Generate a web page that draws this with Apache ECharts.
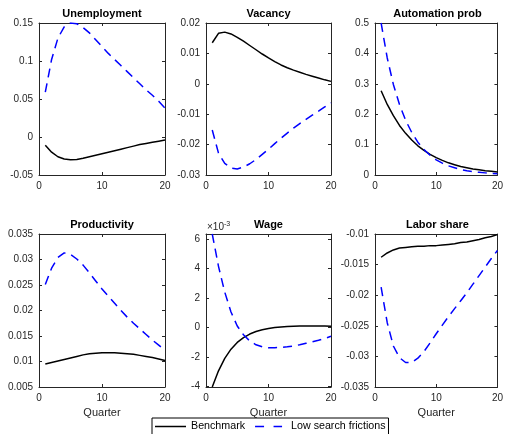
<!DOCTYPE html>
<html>
<head>
<meta charset="utf-8">
<script src="https://cdn.jsdelivr.net/npm/echarts@6/dist/echarts.min.js"></script>
<style>
  html, body { margin: 0; padding: 0; background: #fff; }
  #chart { width: 506px; height: 434px; }
</style>
</head>
<body>
<div id="chart"></div>
<script>
// Impulse responses over 20 quarters: benchmark vs. low search frictions
const quarters = [1, 2, 3, 4, 5, 6, 7, 8, 9, 10, 11, 12, 13, 14, 15, 16, 17, 18, 19, 20];

const unempBench = [-0.011, -0.020, -0.026, -0.029, -0.030, -0.0295, -0.028, -0.026, -0.024, -0.022,
                    -0.020, -0.018, -0.016, -0.014, -0.012, -0.010, -0.0085, -0.007, -0.0055, -0.004];
const unempLow   = [0.059, 0.102, 0.130, 0.145, 0.150, 0.149, 0.144, 0.137, 0.128, 0.119,
                    0.110, 0.102, 0.094, 0.086, 0.078, 0.070, 0.062, 0.055, 0.047, 0.038];

const vacBench = [0.0135, 0.0166, 0.0170, 0.0164, 0.0153, 0.0140, 0.0126, 0.0112, 0.0098, 0.0085,
                  0.0073, 0.0062, 0.0053, 0.0045, 0.0038, 0.0031, 0.0025, 0.0019, 0.0013, 0.0008];
const vacLow   = [-0.0152, -0.0228, -0.0262, -0.0277, -0.0280, -0.0274, -0.0263, -0.0249, -0.0232, -0.0215,
                  -0.0197, -0.0179, -0.0162, -0.0146, -0.0131, -0.0117, -0.0103, -0.0090, -0.0076, -0.0063];

const autoBench = [0.277, 0.232, 0.195, 0.163, 0.137, 0.115, 0.096, 0.081, 0.068, 0.057,
                   0.048, 0.040, 0.034, 0.028, 0.024, 0.020, 0.017, 0.014, 0.012, 0.010];
const autoLow   = [0.500, 0.385, 0.298, 0.232, 0.180, 0.140, 0.108, 0.084, 0.065, 0.050,
                   0.039, 0.030, 0.024, 0.018, 0.014, 0.011, 0.009, 0.007, 0.005, 0.004];

const prodBench = [0.0095, 0.0098, 0.0101, 0.0104, 0.0107, 0.0110, 0.0113, 0.0115, 0.0116, 0.0117,
                   0.0117, 0.0117, 0.0116, 0.0115, 0.0114, 0.0112, 0.0110, 0.0108, 0.0105, 0.0102];
const prodLow   = [0.0251, 0.0283, 0.0304, 0.0313, 0.0310, 0.0301, 0.0289, 0.0274, 0.0258, 0.0242,
                   0.0228, 0.0214, 0.0200, 0.0187, 0.0175, 0.0164, 0.0153, 0.0142, 0.0132, 0.0122];

// wage responses in units of 1e-3
const wageBench = [-4.05, -2.95, -2.10, -1.48, -1.02, -0.69, -0.45, -0.28, -0.16, -0.07,
                   -0.01, 0.03, 0.06, 0.08, 0.09, 0.09, 0.09, 0.09, 0.09, 0.08];
const wageLow   = [6.35, 4.15, 2.40, 1.05, 0.10, -0.50, -0.92, -1.18, -1.32, -1.38,
                   -1.38, -1.36, -1.32, -1.26, -1.18, -1.08, -0.98, -0.87, -0.75, -0.60];

const laborBench = [-0.0138, -0.0131, -0.0126, -0.0123, -0.0122, -0.0121, -0.0120, -0.0120, -0.0119, -0.0119,
                    -0.0118, -0.0117, -0.0116, -0.0114, -0.0113, -0.0111, -0.0109, -0.0106, -0.0104, -0.0101];
const laborLow   = [-0.0187, -0.0245, -0.0283, -0.0302, -0.0310, -0.0310, -0.0303, -0.0292, -0.0278, -0.0263,
                    -0.0249, -0.0235, -0.0222, -0.0209, -0.0196, -0.0182, -0.0168, -0.0154, -0.0140, -0.0127];

const panelTitles = ['Unemployment', 'Vacancy', 'Automation prob', 'Productivity', 'Wage', 'Labor share'];
const seriesNames = ['Benchmark', 'Low search frictions'];

const panels = [
  { bench: unempBench, low: unempLow, min: -0.05, max: 0.15, step: 0.05 },
  { bench: vacBench, low: vacLow, min: -0.03, max: 0.02, step: 0.01 },
  { bench: autoBench, low: autoLow, min: 0, max: 0.5, step: 0.1 },
  { bench: prodBench, low: prodLow, min: 0.005, max: 0.035, step: 0.005 },
  { bench: wageBench, low: wageLow, min: -4.05, max: 6.35, ticks: [-4, -2, 0, 2, 4, 6] },
  { bench: laborBench, low: laborLow, min: -0.035, max: -0.01, step: 0.005 }
];

// layout of the 2x3 panel grid
const colLeft = [39, 206, 375];
const colWidth = [126, 125, 125];
const rowTop = [23, 234];
const rowHeight = [152, 153];

const AX = '#262626';
const FONT = 'Liberation Sans, Arial, Helvetica, sans-serif';
const DASH = [9, 6];

const grids = [], xAxes = [], yAxes = [], series = [], titles = [];

panels.forEach((p, i) => {
  const r = Math.floor(i / 3), c = i % 3;
  grids.push({ left: colLeft[c], top: rowTop[r], width: colWidth[c], height: rowHeight[r], containLabel: false });
  titles.push({
    text: panelTitles[i],
    left: colLeft[c] + colWidth[c] / 2,
    top: rowTop[r] - 15,
    textAlign: 'center',
    padding: 0,
    textStyle: { fontFamily: FONT, fontSize: 11, fontWeight: 'bold', color: '#000' }
  });

  const common = {
    type: 'value', gridIndex: i,
    axisLine: { show: true, onZero: false, lineStyle: { color: AX, width: 1 } },
    axisTick: { show: true, inside: true, length: 3, lineStyle: { color: AX } },
    splitLine: { show: false }
  };
  // bottom and top x axes (box with mirrored ticks)
  xAxes.push(Object.assign({}, common, {
    position: 'bottom', min: 0, max: 20, interval: 10,
    axisLabel: { color: AX, fontFamily: FONT, fontSize: 10, margin: 6 },
    name: r === 1 ? 'Quarter' : '', nameLocation: 'middle', nameGap: 20,
    nameTextStyle: { color: AX, fontFamily: FONT, fontSize: 11 }
  }));
  xAxes.push(Object.assign({}, common, {
    position: 'top', min: 0, max: 20, interval: 10, axisLabel: { show: false }
  }));

  const yBase = { min: p.min, max: p.max };
  if (p.ticks) {
    yBase.axisLabel = { color: AX, fontFamily: FONT, fontSize: 10, margin: 6, customValues: p.ticks };
    yBase.axisTick = Object.assign({}, common.axisTick, { customValues: p.ticks });
  } else {
    yBase.interval = p.step;
    yBase.axisLabel = { color: AX, fontFamily: FONT, fontSize: 10, margin: 6 };
  }
  yAxes.push(Object.assign({}, common, yBase, { position: 'left' }));
  const yRight = Object.assign({}, common, yBase, { position: 'right' });
  yRight.axisLabel = Object.assign({}, yBase.axisLabel, { show: false });
  yAxes.push(yRight);

  series.push({
    name: seriesNames[0], type: 'line', xAxisIndex: 2 * i, yAxisIndex: 2 * i,
    data: quarters.map((q, k) => [q, p.bench[k]]),
    showSymbol: false, symbol: 'none', smooth: false,
    lineStyle: { color: '#000', width: 1.5 }, itemStyle: { color: '#000' }
  });
  series.push({
    name: seriesNames[1], type: 'line', xAxisIndex: 2 * i, yAxisIndex: 2 * i,
    data: quarters.map((q, k) => [q, p.low[k]]),
    showSymbol: false, symbol: 'none', smooth: false,
    lineStyle: { color: '#0000ff', width: 1.5, type: DASH }, itemStyle: { color: '#0000ff' }
  });
});

const chart = echarts.init(document.getElementById('chart'), null, { renderer: 'canvas' });
chart.setOption({
  backgroundColor: '#fff',
  animation: false,
  title: titles,
  grid: grids,
  xAxis: xAxes,
  yAxis: yAxes,
  series: series,
  legend: {
    left: 152, top: 418,
    orient: 'horizontal',
    itemWidth: 31, itemHeight: 12, itemGap: 10,
    padding: [3, 3, 3, 3],
    borderColor: '#000', borderWidth: 1, backgroundColor: '#fff',
    textStyle: { fontFamily: FONT, fontSize: 10.7, color: '#000' },
    data: [
      { name: seriesNames[0], icon: 'path://M0,0h31v1.5h-31z', itemStyle: { color: '#000' } },
      { name: seriesNames[1], icon: 'path://M0,0h9v1.5h-9z M18.5,0h8.5v1.5h-8.5z M30.99,0h0.01v1.5h-0.01z', itemStyle: { color: '#0000ff' } }
    ],
    z: 10
  },
  graphic: [{
    type: 'text', left: 207, top: 221,
    style: {
      text: '{a|\u00d710}{b|-3}',
      rich: {
        a: { fontFamily: FONT, fontSize: 10, fill: AX },
        b: { fontFamily: FONT, fontSize: 7, fill: AX, verticalAlign: 'top', padding: [0, 0, 5, 0] }
      }
    }
  }]
});
</script>
</body>
</html>
